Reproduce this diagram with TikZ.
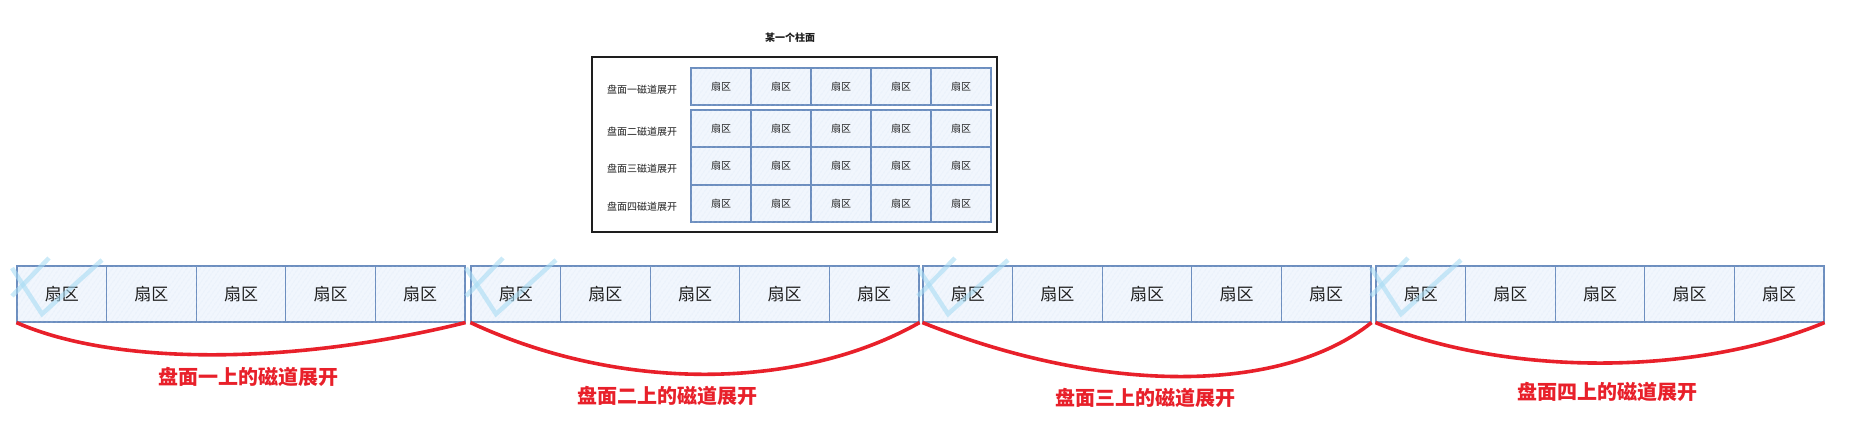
\documentclass[tikz,border=0pt]{standalone}
\usepackage{fontspec}
\setmainfont{Noto Sans CJK SC}
\usepackage{tikz}
\usetikzlibrary{positioning, calc, patterns.meta}
\definecolor{edge}{HTML}{6C8EBF}
\definecolor{cellbg}{HTML}{F1F6FD}
\definecolor{hatch}{HTML}{C9D9F0}
\definecolor{sky}{HTML}{A9DCF4}
\definecolor{mark}{HTML}{E8202A}
\definecolor{ink}{HTML}{1E1E1E}

\begin{document}
\begin{tikzpicture}[x=1pt, y=-1pt,
  sec/.style={draw=edge, line width=1.1pt, fill=cellbg,
              minimum width=60pt, minimum height=37pt, inner sep=0pt,
              font=\fontsize{10}{12}\selectfont\color{ink},
              postaction={pattern={Lines[angle=55,distance=4pt,line width=0.45pt]}, pattern color=hatch}},
  bigsec/.style={sec, minimum width=89.6pt, minimum height=56pt,
              font=\fontsize{17}{20}\selectfont\color{ink}},
  rowlbl/.style={font=\fontsize{10}{12}\selectfont\color{ink}},
  trk/.style={draw=mark, line width=3.6pt},
  tlbl/.style={font=\bfseries\fontsize{20}{24}\selectfont\color{mark}},
  skyln/.style={draw=sky, line width=4.5pt, opacity=0.6}
]
  \useasboundingbox (0,0) rectangle (1849,424);

  % one cylinder
  \node[font=\bfseries\fontsize{10}{12}\selectfont\color{ink}] (title) at (790,38) {某一个柱面};
  \node[draw=ink, line width=1.2pt, minimum width=405pt, minimum height=175pt] (frame) at (794.5,144.5) {};

  \foreach \r/\y/\k in {1/86.5/一, 2/128.5/二, 3/166/三, 4/203.5/四} {
    \node[rowlbl] (r\r) at (642,\y+3) {盘面\k 磁道展开};
    \foreach \c in {1,...,5}
      \node[sec] (s\r\c) at ({661+60*\c},\y) {扇区};
  }

  % unrolled tracks
  \foreach \g/\L in {1/17, 2/471, 3/923, 4/1376} {
    \foreach \c in {1,...,5}
      \node[bigsec] (g\g c\c) at ({\L+89.6*\c-44.8},294) {扇区};
    \draw[skyln] (\L-5,268) -- (\L+25,314) -- (\L+85,260);
    \draw[skyln] (\L-5,296) -- (\L+32,258);
  }

  \draw[trk] (g1c1.south west) .. controls +(100,44) and +(-170,42) .. (g1c5.south east);
  \draw[trk] (g2c1.south west) .. controls +(150,70) and +(-120,68) .. (g2c5.south east);
  \draw[trk] (g3c1.south west) .. controls +(180,72) and +(-90,72) .. (g3c5.south east);
  \draw[trk] (g4c1.south west) .. controls +(130,54) and +(-130,54) .. (g4c5.south east);

  \node[tlbl] (t1) at (248,377) {盘面一上的磁道展开};
  \node[tlbl] (t2) at (667,396) {盘面二上的磁道展开};
  \node[tlbl] (t3) at (1145,398) {盘面三上的磁道展开};
  \node[tlbl] (t4) at (1607,392) {盘面四上的磁道展开};

\end{tikzpicture}
\end{document}
